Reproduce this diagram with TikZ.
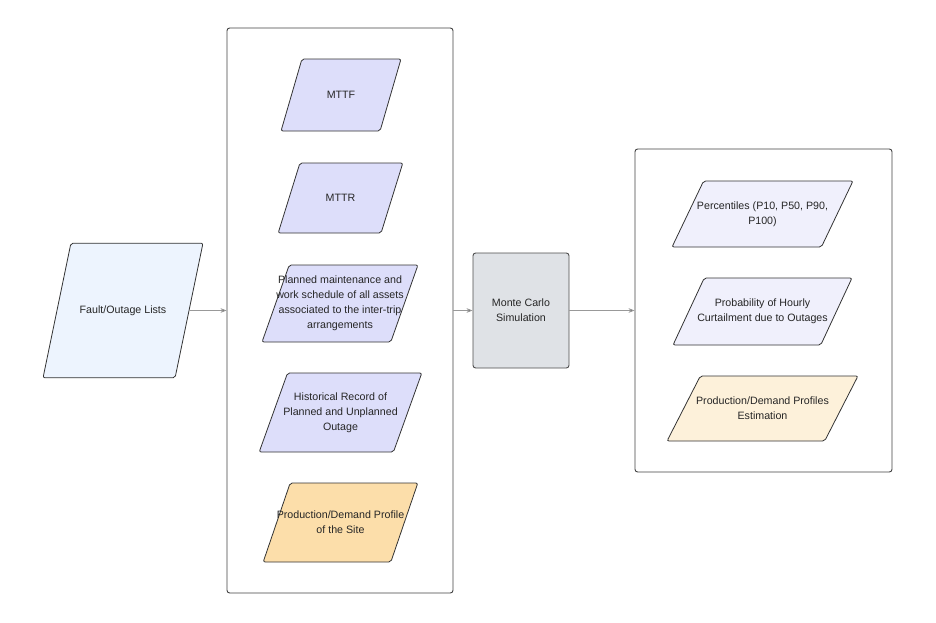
\documentclass[tikz,border=0pt]{standalone}
\usepackage{fontspec}
\setmainfont{Liberation Sans}
\usetikzlibrary{shapes.geometric,arrows.meta}
\definecolor{faultblue}{HTML}{EDF4FE}
\definecolor{inlav}{HTML}{DDDEFA}
\definecolor{inorange}{HTML}{FCDEAA}
\definecolor{mcgray}{HTML}{DFE2E6}
\definecolor{outlav}{HTML}{F0F0FC}
\definecolor{outcream}{HTML}{FDF1DA}
\begin{document}
\begin{tikzpicture}[
  x=0.75pt, y=-0.75pt,
  txt/.style={font=\fontsize{8}{11.25}\selectfont, align=center, text=black!85},
  para/.style={trapezium, trapezium left angle=75, trapezium right angle=105,
    trapezium stretches=true, draw=black!80, line width=0.6pt,
    rounded corners=1.5pt, inner sep=2pt},
  group/.style={draw=black!75, line width=0.7pt, rounded corners=2pt, inner sep=0pt},
  flow/.style={draw=black!40, line width=0.5pt, -{Stealth[length=4.5pt, width=3.5pt, fill=black!70]}}
]
\useasboundingbox (0,0) rectangle (936,622);

\node[para, fill=faultblue, minimum width=120pt, minimum height=101pt,
  label={[txt]center:Fault/Outage Lists}] (fault) at (123,310.5) {};

\node[group, minimum width=169.5pt, minimum height=423.75pt] (inputs) at (340,310.5) {};
\node[para, fill=inlav, minimum width=90pt, minimum height=54pt,
  label={[txt]center:MTTF}] (mttf) at (341,95) {};
\node[para, fill=inlav, minimum width=93.5pt, minimum height=52.5pt,
  label={[txt]center:MTTR}] (mttr) at (340.5,198) {};
\node[para, fill=inlav, minimum width=117pt, minimum height=57.75pt,
  label={[txt]center:{Planned maintenance and\\work schedule of all assets\\associated to the inter-trip\\arrangements}}] (maint) at (340,303.5) {};
\node[para, fill=inlav, minimum width=122pt, minimum height=59.25pt,
  label={[txt]center:{Historical Record of\\Planned and Unplanned\\Outage}}] (hist) at (340.5,412.5) {};
\node[para, fill=inorange, minimum width=116pt, minimum height=59.25pt,
  label={[txt]center:{Production/Demand Profile\\of the Site}}] (site) at (340.5,522.5) {};

\node[group, fill=mcgray, draw=black!70, minimum width=72pt, minimum height=86.25pt,
  txt] (monte) at (521,310.5) {Monte Carlo\\Simulation};

\node[group, minimum width=192.75pt, minimum height=242.25pt] (outputs) at (763.5,310.5) {};
\node[para, fill=outlav, minimum width=135.75pt, minimum height=49.5pt,
  label={[txt]center:{Percentiles (P10, P50, P90,\\P100)}}] (perc) at (762.5,214) {};
\node[para, fill=outlav, minimum width=134.25pt, minimum height=50.25pt,
  label={[txt]center:{Probability of Hourly\\Curtailment due to Outages}}] (prob) at (762.5,311.5) {};
\node[para, fill=outcream, minimum width=143.25pt, minimum height=48.75pt,
  label={[txt]center:{Production/Demand Profiles\\Estimation}}] (est) at (762.5,408.5) {};

\draw[flow] (fault.east) -- (inputs.west);
\draw[flow] (inputs.east) -- (monte.west);
\draw[flow] (monte.east) -- (outputs.west);
\end{tikzpicture}
\end{document}
